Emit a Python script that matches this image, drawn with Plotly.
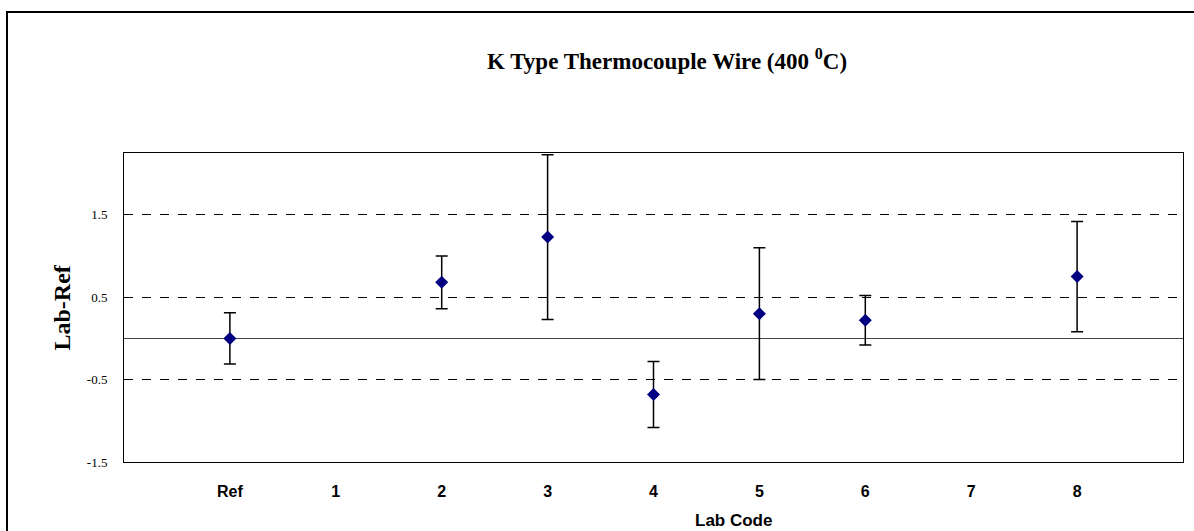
import plotly.graph_objects as go

labs = ["Ref", "1", "2", "3", "4", "5", "6", "7", "8"]
diff = [0.0, None, 0.68, 1.23, -0.68, 0.30, 0.22, None, 0.75]
unc = [0.31, None, 0.32, 1.00, 0.40, 0.80, 0.30, None, 0.67]
ytick_vals = [-1.5, -0.5, 0.5, 1.5]
ytick_text = ["-1.5", "-0.5", "0.5", "1.5"]

W, H = 1194, 531
L, R, T, B = 124, 11, 153, 69
pw, ph = W - L - R, H - T - B

fig = go.Figure()
fig.add_trace(go.Scatter(
    x=labs, y=diff, mode="markers",
    marker=dict(symbol="diamond", size=10, color="#000080"),
    error_y=dict(type="data", array=unc, visible=True, color="black", thickness=1.5, width=6),
    cliponaxis=True, showlegend=False,
))

fig.update_layout(
    width=W, height=H,
    margin=dict(l=L, r=R, t=T, b=B),
    paper_bgcolor="white", plot_bgcolor="white",
    xaxis=dict(
        type="category", categoryorder="array", categoryarray=labs,
        range=[-1, 9], showgrid=False, zeroline=False,
        showline=True, mirror=True, linecolor="black", linewidth=1,
        ticks="", ticklabelstandoff=15,
        tickfont=dict(family="Liberation Sans", size=16, color="black", weight="bold"),
    ),
    yaxis=dict(
        range=[-1.5, 2.25], tickmode="array", tickvals=ytick_vals, ticktext=ytick_text,
        showgrid=True, gridcolor="black", griddash="dash", gridwidth=1,
        zeroline=True, zerolinecolor="#444", zerolinewidth=1,
        showline=True, mirror=True, linecolor="black", linewidth=1,
        ticks="", ticklabelstandoff=13,
        tickfont=dict(family="Liberation Serif", size=13, color="black"),
    ),
    annotations=[
        dict(text="<b>K Type Thermocouple Wire (400 <sup>0</sup>C)</b>",
             xref="paper", yref="paper", x=(667 - L) / pw, y=(H - B - 60) / ph,
             xanchor="center", yanchor="middle", showarrow=False,
             font=dict(family="Liberation Serif", size=23, color="black")),
        dict(text="<b>Lab-Ref</b>", textangle=-90,
             xref="paper", yref="paper", x=(61 - L) / pw, y=0.5,
             xanchor="center", yanchor="middle", showarrow=False,
             font=dict(family="Liberation Serif", size=24, color="black")),
        dict(text="<b>Lab Code</b>",
             xref="paper", yref="paper", x=(733 - L) / pw, y=(H - B - 520) / ph,
             xanchor="center", yanchor="middle", showarrow=False,
             font=dict(family="Liberation Sans", size=17, color="black")),
    ],
    shapes=[
        dict(type="rect", xref="paper", yref="paper",
             x0=(7 - L) / pw, x1=(1200 - L) / pw,
             y0=(H - B - 540) / ph, y1=(H - B - 12) / ph,
             line=dict(color="black", width=2), fillcolor="rgba(0,0,0,0)", layer="below"),
    ],
)

fig.write_html("out.html", config={"displayModeBar": False},
               post_script="document.body.style.margin='0';document.body.style.overflow='hidden';")
